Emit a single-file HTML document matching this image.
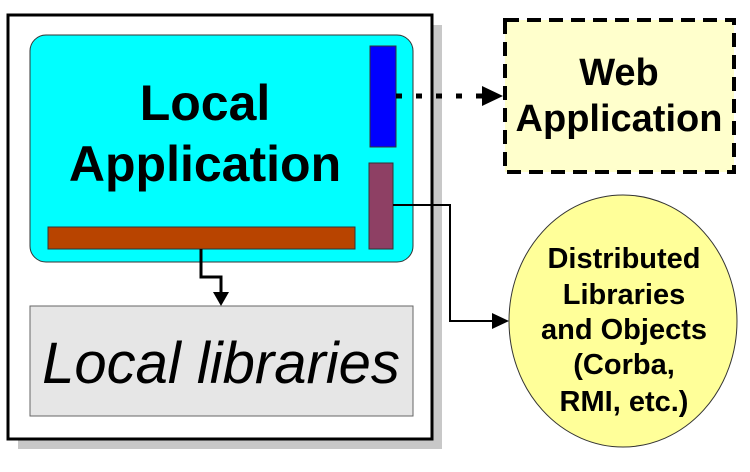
<!DOCTYPE html>
<html><head><meta charset="utf-8"><style>
html,body{margin:0;padding:0;background:#fff;}
svg{display:block;}
text{font-family:"Liberation Sans",Arial,sans-serif;}
</style></head><body>
<svg width="750" height="472" viewBox="0 0 750 472" xmlns="http://www.w3.org/2000/svg">
<rect x="18" y="25" width="424" height="424" fill="#c8c8c8"/>
<rect x="8" y="15" width="424" height="424" fill="#fff" stroke="#000" stroke-width="3"/>
<rect x="30" y="35" width="383" height="227" rx="16" fill="#00ffff" stroke="#333" stroke-width="1"/>
<rect x="370" y="46" width="26" height="101" fill="#0000ff" stroke="#333" stroke-width="1"/>
<rect x="369" y="163" width="24" height="86" fill="#8e4064" stroke="#333" stroke-width="1"/>
<rect x="48" y="227" width="307" height="22" fill="#b84400" stroke="#333" stroke-width="1"/>
<text x="205" y="120" font-size="50" font-weight="bold" text-anchor="middle">Local</text>
<text x="205" y="181" font-size="50" font-weight="bold" text-anchor="middle">Application</text>
<polyline points="201,249 201,277 221,277 221,294" fill="none" stroke="#000" stroke-width="3"/>
<polygon points="213,292 229,292 221,306" fill="#000"/>
<rect x="30" y="306" width="383" height="110" fill="#e6e6e6" stroke="#666" stroke-width="1"/>
<text x="221" y="383" font-size="58" font-style="italic" text-anchor="middle">Local libraries</text>
<rect x="505" y="20" width="229" height="152" fill="#ffffcc" stroke="#000" stroke-width="4" stroke-dasharray="14,8"/>
<text x="619" y="85" font-size="38" font-weight="bold" text-anchor="middle">Web</text>
<text x="619" y="131" font-size="38" font-weight="bold" text-anchor="middle">Application</text>
<line x1="396" y1="96" x2="486" y2="96" stroke="#000" stroke-width="5" stroke-dasharray="6,14"/>
<polygon points="482,86 482,106 503,96" fill="#000"/>
<polyline points="393,205 450,205 450,321 494,321" fill="none" stroke="#000" stroke-width="2"/>
<polygon points="492,313 492,329 509,321" fill="#000"/>
<ellipse cx="623" cy="321" rx="114" ry="126" fill="#ffff99" stroke="#333" stroke-width="1"/>
<g font-size="29" font-weight="bold" text-anchor="middle">
<text x="624" y="268">Distributed</text>
<text x="624" y="304">Libraries</text>
<text x="624" y="339">and Objects</text>
<text x="624" y="374">(Corba,</text>
<text x="624" y="411">RMI, etc.)</text>
</g>
</svg>
</body></html>
